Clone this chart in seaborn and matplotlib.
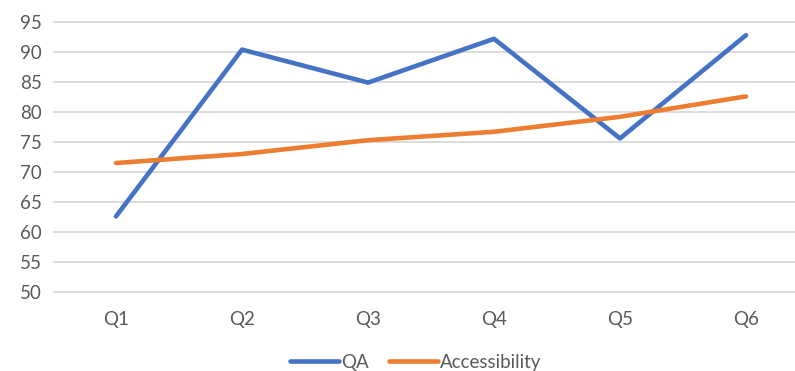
import pandas as pd
import seaborn as sns
import matplotlib.pyplot as plt

# Values
quarters = ["Q1", "Q2", "Q3", "Q4", "Q5", "Q6"]
qa_scores = [62.6, 90.4, 84.9, 92.2, 75.6, 92.8]
accessibility_scores = [71.5, 73.0, 75.3, 76.7, 79.2, 82.6]
series_names = ["QA", "Accessibility"]

df = pd.DataFrame({
    "Quarter": quarters * 2,
    "Score": qa_scores + accessibility_scores,
    "Series": [series_names[0]] * len(quarters) + [series_names[1]] * len(quarters),
})

sns.set_style("white")
plt.rcParams['font.family'] = ['Lato', 'DejaVu Sans']
text_grey = "#595959"

fig = plt.figure(figsize=(7.95, 3.71), dpi=100)
ax = fig.add_axes([53 / 795, 77.8 / 371, 756 / 795, 272.4 / 371])

sns.lineplot(data=df, x="Quarter", y="Score", hue="Series",
             palette=["#4472C4", "#ED7D31"], linewidth=3.3, sort=False,
             ax=ax)

ax.set_xlim(-0.5, 5.5)
ax.set_ylim(49.8, 95.2)
ax.set_yticks(range(50, 100, 5))
ax.yaxis.grid(True, color="#D9D9D9", linewidth=1.3)
ax.set_axisbelow(True)
for s in ax.spines.values():
    s.set_visible(False)
ax.tick_params(axis="both", length=0, labelsize=13.5, colors=text_grey)
ax.tick_params(axis="x", pad=13)
ax.tick_params(axis="y", pad=8)
ax.set_xlabel("")
ax.set_ylabel("")

ax.legend_.remove()
handles, labels = ax.get_legend_handles_labels()
fig.legend(handles, labels, loc="center", bbox_to_anchor=(0.523, 0.024),
           ncol=2, frameon=False, fontsize=13.5, handlelength=2.6,
           handletextpad=0.1, columnspacing=1.1, labelcolor=text_grey)

plt.savefig("out.png", dpi=100)
